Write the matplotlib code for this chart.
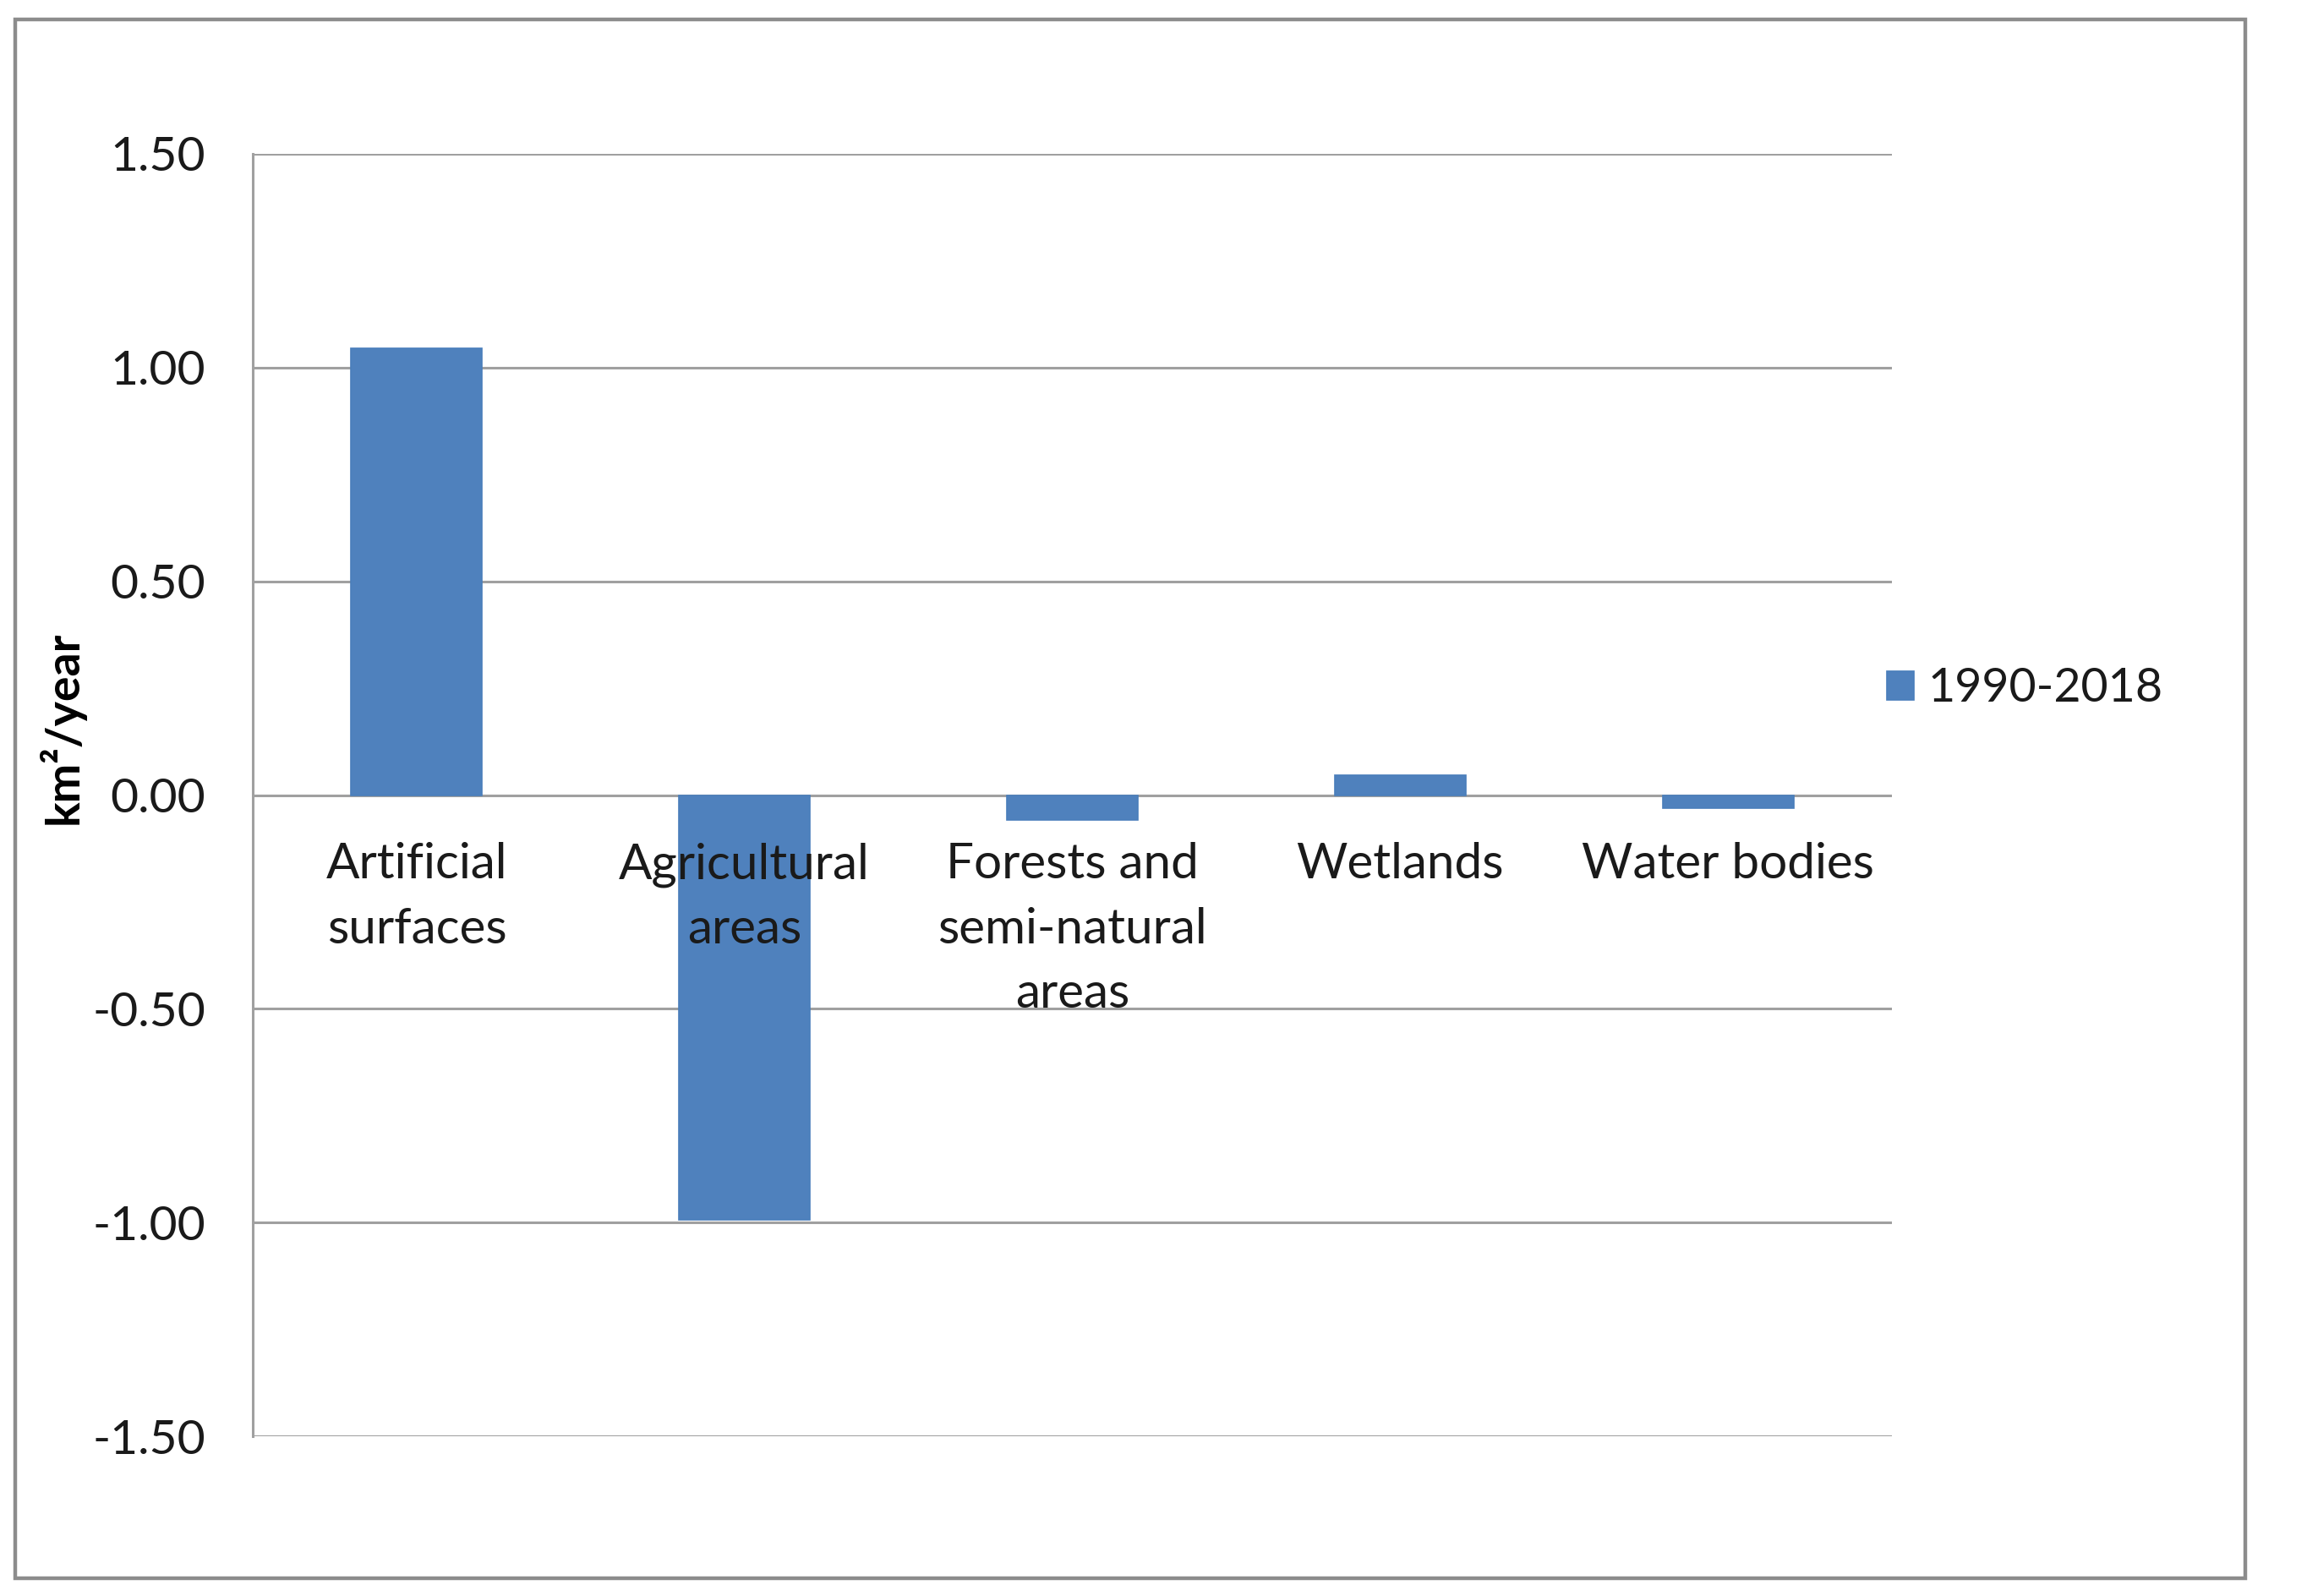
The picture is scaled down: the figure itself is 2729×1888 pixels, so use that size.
import matplotlib
matplotlib.use("Agg")
import matplotlib.pyplot as plt
from matplotlib.patches import Rectangle

categories = ["Artificial\nsurfaces", "Agricultural\nareas", "Forests and\nsemi-natural\nareas", "Wetlands", "Water bodies"]
values = [1.045, -0.993, -0.059, 0.047, -0.030]
series_name = "1990-2018"
yticks = [-1.5, -1.0, -0.5, 0.0, 0.5, 1.0, 1.5]
ytick_labels = ["-1.50", "-1.00", "-0.50", "0.00", "0.50", "1.00", "1.50"]

plt.rcParams['font.family'] = ['Lato', 'DejaVu Sans']

W, H = 2729, 1888
dpi = 200
fig = plt.figure(figsize=(W / dpi, H / dpi), dpi=dpi)
fig.patch.set_facecolor('white')

# outer border
fig.patches.append(Rectangle((18 / W, 1 - 1867 / H), (2656 - 18) / W, (1867 - 23) / H,
                             transform=fig.transFigure, fill=False,
                             edgecolor='#8c8c8c', linewidth=1.6, zorder=0))

ax = fig.add_axes([299 / W, 1 - 1699 / H, (2238 - 299) / W, (1699 - 182) / H])
x = list(range(len(categories)))
ax.bar(x, values, width=0.40, color='#4F81BD', edgecolor='#4A7EBB', linewidth=0.6,
       label=series_name, zorder=3)

ax.set_xlim(-0.5, len(categories) - 0.5)
ax.set_ylim(-1.5, 1.5)
ax.set_yticks(yticks)
ax.set_yticklabels(ytick_labels, fontsize=20.5, color='#1a1a1a')
ax.tick_params(axis='y', length=0, pad=20)
ax.set_xticks([])
ax.yaxis.grid(True, color='#a0a0a0', linewidth=1.1, zorder=0)
ax.set_axisbelow(True)
for s in ['top', 'right', 'bottom']:
    ax.spines[s].set_visible(False)
ax.spines['left'].set_color('#a0a0a0')
ax.spines['left'].set_linewidth(1.1)

for xi, lab in zip(x, categories):
    ax.annotate(lab, xy=(xi, 0), xytext=(0, -20), textcoords='offset points',
                ha='center', va='top', fontsize=21, color='#1a1a1a',
                linespacing=1.55, zorder=5)

fig.text(73 / W, 1 - 861 / H, "km²/year", rotation=90, ha='center', va='center',
         fontsize=20, fontweight='bold', color='black')

leg = ax.legend(loc='center left', bbox_to_anchor=(2232 / W, 1 - 815 / H),
                bbox_transform=fig.transFigure, frameon=False, fontsize=20,
                handlelength=0.58, handleheight=0.58, handletextpad=0.3,
                borderpad=0, borderaxespad=0)
for t in leg.get_texts():
    t.set_color('#1a1a1a')

fig.savefig("out.png", dpi=dpi, facecolor='white')
